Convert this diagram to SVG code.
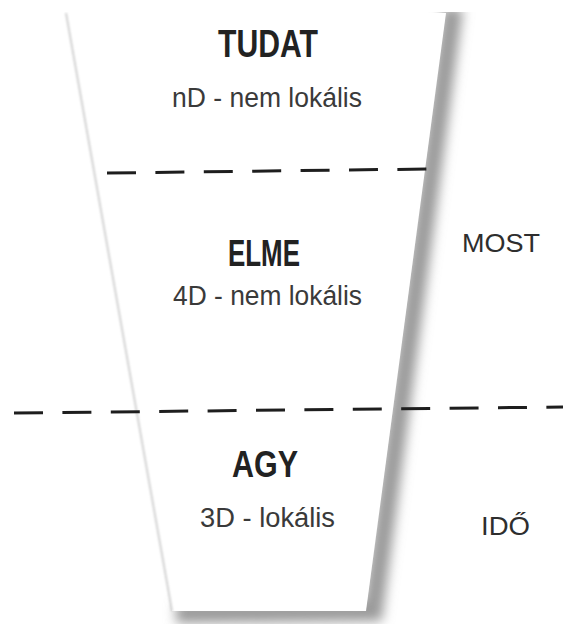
<svg xmlns="http://www.w3.org/2000/svg" width="563" height="624" viewBox="0 0 563 624">
  <defs>
    <filter id="soft" x="-50%" y="-10%" width="200%" height="120%">
      <feGaussianBlur stdDeviation="6"/>
    </filter>
    <filter id="softer" x="-50%" y="-10%" width="200%" height="120%">
      <feGaussianBlur stdDeviation="0.8"/>
    </filter>
  </defs>
  <style>
    .title { font-family: "Liberation Sans", Arial, sans-serif; font-weight: bold; fill: #222; }
    .sub { font-family: "Liberation Sans", Arial, sans-serif; fill: #3a3a3a; }
    .side { font-family: "Liberation Sans", Arial, sans-serif; fill: #2e2e2e; }
    .dash { stroke: #1e1e1e; stroke-width: 3; fill: none; stroke-dasharray: 29 19.4; }
  </style>
  <rect width="563" height="624" fill="#ffffff"/>

  <g id="funnel">
    <!-- right and bottom shadow -->
    <polyline points="453,8 373,611 176,613" fill="none" stroke="#9a9a9a" stroke-width="20" filter="url(#soft)"/>
    <!-- funnel body -->
    <polygon points="66,13 446,13 366,611 172,611" fill="#ffffff"/>
    <!-- left edge -->
    <line x1="66" y1="13" x2="172" y2="611" stroke="#c8c8c8" stroke-width="1.6" filter="url(#softer)"/>
    <rect x="0" y="0" width="563" height="12" fill="#ffffff"/>
  </g>

  <g id="connectors">
    <line class="dash" x1="107" y1="173" x2="428" y2="169"/>
    <line class="dash" x1="14" y1="413" x2="563" y2="407"/>
  </g>

  <g id="tudat">
    <text class="title" x="218" y="57" font-size="38" textLength="100" lengthAdjust="spacingAndGlyphs">TUDAT</text>
    <text class="sub" x="172" y="107" font-size="27" textLength="190" lengthAdjust="spacingAndGlyphs">nD - nem lokális</text>
  </g>

  <g id="elme">
    <text class="title" x="228" y="266" font-size="36" textLength="72" lengthAdjust="spacingAndGlyphs">ELME</text>
    <text class="sub" x="173" y="305" font-size="27" textLength="189" lengthAdjust="spacingAndGlyphs">4D - nem lokális</text>
  </g>

  <g id="agy">
    <text class="title" x="232" y="477" font-size="36" textLength="66" lengthAdjust="spacingAndGlyphs">AGY</text>
    <text class="sub" x="200" y="527" font-size="27" textLength="135" lengthAdjust="spacingAndGlyphs">3D - lokális</text>
  </g>

  <g id="most">
    <text class="side" x="462" y="252" font-size="25" textLength="78" lengthAdjust="spacingAndGlyphs">MOST</text>
  </g>

  <g id="ido">
    <text class="side" x="481" y="535" font-size="25" textLength="49" lengthAdjust="spacingAndGlyphs">IDŐ</text>
  </g>
</svg>
